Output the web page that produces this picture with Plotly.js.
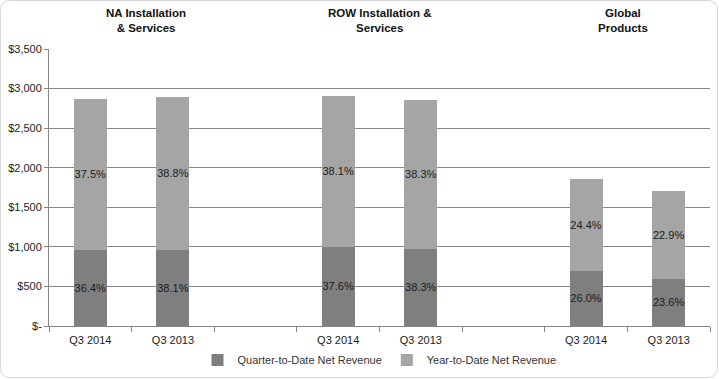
<!DOCTYPE html>
<html>
<head>
<meta charset="utf-8">
<script src="https://cdn.plot.ly/plotly-3.0.1.min.js"></script>
<style>html,body{margin:0;padding:0;background:#fff}#chart{width:719px;height:379px}</style>
</head>
<body>
<div id="chart"></div>
<script>
// ---- data ----
var slotLabels = ["Q3 2014", "Q3 2013", "", "Q3 2014", "Q3 2013", "", "Q3 2014", "Q3 2013"];
var quarterValues = [961, 961, null, 1003, 973, null, 699, 594];
var yearSegmentValues = [1909, 1934, null, 1905, 1884, null, 1159, 1113];
var quarterLabels = ["36.4%", "38.1%", "", "37.6%", "38.3%", "", "26.0%", "23.6%"];
var yearLabels = ["37.5%", "38.8%", "", "38.1%", "38.3%", "", "24.4%", "22.9%"];
var groupTitles = ["NA Installation<br>& Services", "ROW Installation &<br>Services", "Global<br>Products"];
var yTickVals = [0, 500, 1000, 1500, 2000, 2500, 3000, 3500];
var yTickText = ["$-", "$500", "$1,000", "$1,500", "$2,000", "$2,500", "$3,000", "$3,500"];
var seriesNames = ["Quarter-to-Date Net Revenue", "Year-to-Date Net Revenue"];

var xs = slotLabels.map(function (_, i) { return i; });
var font = "Liberation Sans, Arial, sans-serif";

var traces = [
  {
    type: "bar", x: xs, y: quarterValues, name: seriesNames[0],
    marker: { color: "#7f7f7f" }, width: 0.4,
    text: quarterLabels, textposition: "inside", insidetextanchor: "middle",
    textangle: 0, constraintext: "none",
    textfont: { family: font, size: 11, color: "#1a1a1a" },
    hoverinfo: "skip"
  },
  {
    type: "bar", x: xs, y: yearSegmentValues, name: seriesNames[1],
    marker: { color: "#a5a5a5" }, width: 0.4,
    text: yearLabels, textposition: "inside", insidetextanchor: "middle",
    textangle: 0, constraintext: "none",
    textfont: { family: font, size: 11, color: "#1a1a1a" },
    hoverinfo: "skip"
  },
  // invisible trace to carry boundary tick marks on xaxis2
  { type: "scatter", x: [-0.5, 7.5], y: [null, null], xaxis: "x2", showlegend: false, hoverinfo: "skip" }
];

var boundaries = [];
for (var b = 0; b <= slotLabels.length; b++) boundaries.push(b - 0.5);

var layout = {
  width: 719, height: 379,
  margin: { l: 49, r: 9, t: 49, b: 53, autoexpand: false },
  paper_bgcolor: "#ffffff", plot_bgcolor: "#ffffff",
  barmode: "stack",
  uniformtext: { mode: false },
  showlegend: true,
  legend: {
    orientation: "h", x: 0.5, xanchor: "center", y: -0.123, yanchor: "middle",
    font: { family: font, size: 11, color: "#333" },
    traceorder: "normal", itemwidth: 30
  },
  xaxis: {
    range: [-0.5, 7.5], tickmode: "array", tickvals: xs, ticktext: slotLabels,
    ticks: "", showgrid: false, zeroline: false,
    showline: true, linecolor: "#868686", linewidth: 1, ticklabelstandoff: 4,
    tickfont: { family: font, size: 11, color: "#222" }, fixedrange: true
  },
  xaxis2: {
    overlaying: "x", range: [-0.5, 7.5], tickmode: "array", tickvals: boundaries,
    showticklabels: false, ticks: "outside", ticklen: 5, tickcolor: "#868686",
    showgrid: false, zeroline: false, showline: false, side: "bottom", anchor: "y"
  },
  yaxis: {
    range: [0, 3500], tickmode: "array", tickvals: yTickVals, ticktext: yTickText,
    showgrid: true, gridcolor: "#868686", gridwidth: 1, zeroline: false,
    showline: true, linecolor: "#868686", linewidth: 1,
    ticks: "outside", ticklen: 4, tickcolor: "#868686",
    tickfont: { family: font, size: 11, color: "#222" }
  },
  annotations: [
    { text: groupTitles[0], xref: "x", x: 0.67, yref: "paper", y: 1.0, yshift: 44, yanchor: "top",
      showarrow: false, font: { family: font, size: 11.5, color: "#111", weight: "bold" } },
    { text: groupTitles[1], xref: "x", x: 3.5, yref: "paper", y: 1.0, yshift: 44, yanchor: "top",
      showarrow: false, font: { family: font, size: 11.5, color: "#111", weight: "bold" } },
    { text: groupTitles[2], xref: "x", x: 6.45, yref: "paper", y: 1.0, yshift: 44, yanchor: "top",
      showarrow: false, font: { family: font, size: 11.5, color: "#111", weight: "bold" } }
  ]
};

Plotly.newPlot("chart", traces, layout, { staticPlot: true, displayModeBar: false }).then(function () {
  // light rounded chart-area frame
  var svg = document.querySelector("#chart .main-svg");
  var ns = "http://www.w3.org/2000/svg";
  var r = document.createElementNS(ns, "rect");
  r.setAttribute("x", "0.5"); r.setAttribute("y", "0.5");
  r.setAttribute("width", "717"); r.setAttribute("height", "377");
  r.setAttribute("rx", "9"); r.setAttribute("ry", "9");
  r.setAttribute("fill", "none"); r.setAttribute("stroke", "#d9d9d9");
  svg.appendChild(r);
});
</script>
</body>
</html>
